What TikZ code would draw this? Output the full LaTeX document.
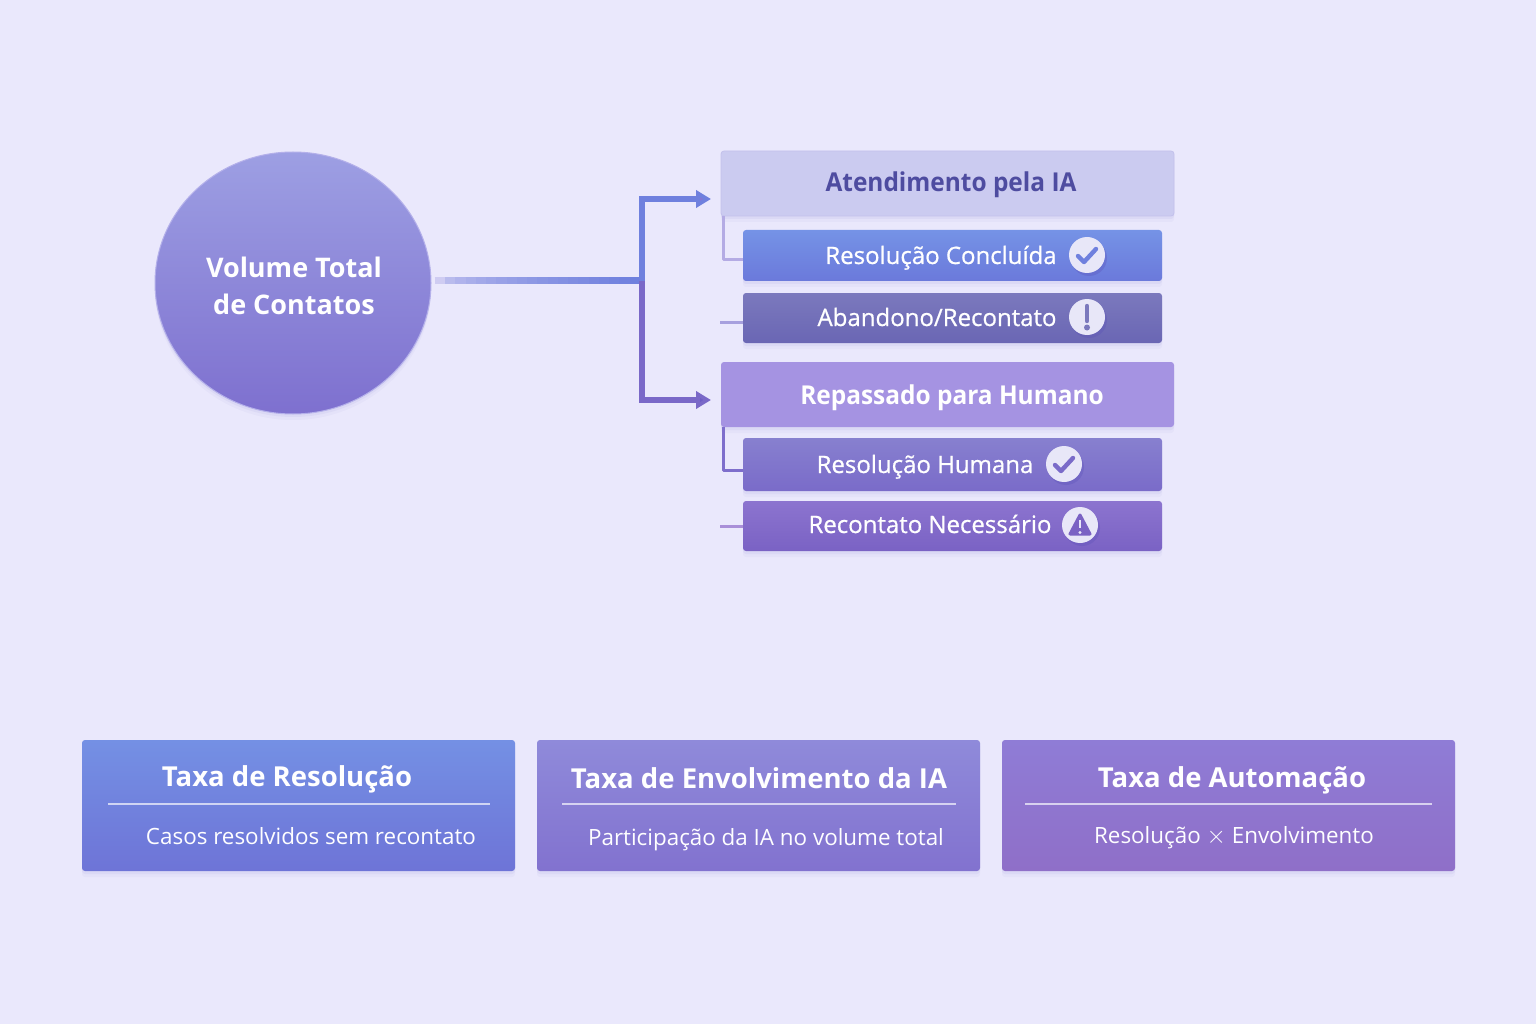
\documentclass[tikz,border=0pt]{standalone}
\usepackage{xcolor}
\usepackage{fontspec}
\setmainfont{Open Sans}
\newfontfamily\semifont[FakeStretch=0.94]{Open Sans}
\newfontfamily\mediumfont[FakeBold=0.7]{Open Sans}
\usetikzlibrary{arrows.meta, calc, shadows, shapes.geometric}
\definecolor{PageBack}{HTML}{EAE8FC}
\definecolor{IaDeep}{HTML}{4E4CA0}
\definecolor{IconFace}{HTML}{E8E7F8}
\definecolor{TrunkBlue}{HTML}{6F80DE}
\definecolor{TrunkViolet}{HTML}{7A68C8}
\definecolor{TipBlue}{HTML}{8177D6}
\definecolor{TipViolet}{HTML}{6E5CC4}
\definecolor{TrunkTail}{HTML}{CFCCF2}
\definecolor{CircleTop}{HTML}{9D9FE3}
\definecolor{CircleLow}{HTML}{7E70CF}
\definecolor{CircleEdge}{HTML}{B4B0EA}
\definecolor{AtendFill}{HTML}{CBCBF0}
\definecolor{AtendEdge}{HTML}{C3C1EC}
\definecolor{RepasseFill}{HTML}{A593E2}
\definecolor{ConclTop}{HTML}{7593E6}
\definecolor{ConclLow}{HTML}{6B79DB}
\definecolor{AbanTop}{HTML}{7B79BD}
\definecolor{AbanLow}{HTML}{6A66B4}
\definecolor{HumTop}{HTML}{8780CF}
\definecolor{HumLow}{HTML}{7A6BC9}
\definecolor{NecTop}{HTML}{8C74CF}
\definecolor{NecLow}{HTML}{7A62C4}
\definecolor{TwigOne}{HTML}{B4ABE4}
\definecolor{TwigTwo}{HTML}{A7A0DE}
\definecolor{TwigThree}{HTML}{7E6ECC}
\definecolor{TwigFour}{HTML}{A98FD8}
\definecolor{ResTop}{HTML}{7490E4}
\definecolor{ResLow}{HTML}{6E74D7}
\definecolor{EnvTop}{HTML}{8F8ADA}
\definecolor{EnvLow}{HTML}{8272CF}
\definecolor{AutoTop}{HTML}{8F7CD6}
\definecolor{AutoLow}{HTML}{8F6FC8}
\definecolor{ShadeInk}{HTML}{5A50B8}

\begin{document}
\begin{tikzpicture}[
    x=1pt, y=-1pt,
    softshadow/.style={
        general shadow={shadow xshift=0pt, shadow yshift=-6pt, fill=ShadeInk, opacity=.04},
        general shadow={shadow xshift=0pt, shadow yshift=-3pt, fill=ShadeInk, opacity=.06}
    },
    card/.style={
        rectangle, rounded corners=3pt, inner sep=0pt, outer sep=0pt, softshadow
    },
    groupbox/.style={card, minimum width=453pt, minimum height=65pt},
    subbox/.style={card, minimum width=419pt},
    ratebox/.style={card, minimum height=131pt},
    subtext/.style={anchor=base, text=white, font=\fontsize{24}{29}\mediumfont},
    grouptext/.style={anchor=base, font=\fontsize{26}{31}\semifont\bfseries},
    ratetext/.style={anchor=base, text=white, font=\fontsize{27.5}{32}\selectfont\bfseries},
    ratenote/.style={anchor=base, text=white!95!IconFace, font=\fontsize{22.4}{27}\selectfont},
    divider/.style={line width=1.5pt, color=white!70!IconFace, opacity=.7},
    badge/.style={
        circle, fill=IconFace, inner sep=0pt, outer sep=0pt, minimum size=36pt,
        general shadow={shadow xshift=2pt, shadow yshift=-3pt, fill=ShadeInk, opacity=.3}
    },
    tickline/.style={line width=4.4pt, line cap=round, line join=round},
    trunk/.style={line width=6pt, line join=miter},
    twig/.style={line width=3pt, line join=round}
]

    \useasboundingbox[fill=PageBack] (0,0) rectangle (1536,1024);

    % Source circle
    \node[ellipse, inner sep=0pt, outer sep=0pt, minimum width=276pt, minimum height=262pt, top color=CircleTop, bottom color=CircleLow,
        draw=CircleEdge, line width=1pt, softshadow] (volume) at (293,283) {};
    \node[anchor=base, text=white, align=center, font=\fontsize{27}{36}\selectfont\bfseries] (volumetext) at (294,314) {Volume Total\\de Contatos};

    % Boxes
    \node[groupbox, fill=AtendFill, draw=AtendEdge, line width=.8pt] (atend) at (947.5,183.5) {};
    \node[subbox, minimum height=51pt, top color=ConclTop, bottom color=ConclLow] (concluida) at (952.5,255.5) {};
    \node[subbox, minimum height=50pt, top color=AbanTop, bottom color=AbanLow] (abandono) at (952.5,318) {};
    \node[groupbox, fill=RepasseFill] (repasse) at (947.5,394.5) {};
    \node[subbox, minimum height=53pt, top color=HumTop, bottom color=HumLow] (humana) at (952.5,464.5) {};
    \node[subbox, minimum height=50pt, top color=NecTop, bottom color=NecLow] (necessario) at (952.5,526) {};

    % Box labels
    \node[grouptext, text=IaDeep] (atendtext) at (951,192) {Atendimento pela IA};
    \node[subtext] (concluidatext) at (941,264) {Resolução Concluída};
    \node[subtext] (abandonotext) at (937,326) {Abandono/Recontato};
    \node[grouptext, text=white] (repassetext) at (952,404) {Repassado para Humano};
    \node[subtext] (humanatext) at (925,473) {Resolução Humana};
    \node[subtext] (necessariotext) at (930,533) {Recontato Necessário};

    % Badges
    \node[badge] (okone) at (1087,255) {};
    \node[badge] (warnone) at (1087,317) {};
    \node[badge] (oktwo) at (1064,464) {};
    \node[badge] (warntwo) at (1080,525) {};
    \draw[tickline, color=TrunkBlue] ($(okone)+(-9,1)$) -- ($(okone)+(-3,7)$) -- ($(okone)+(9,-6)$);
    \draw[line width=4.4pt, line cap=round, color=AbanTop] ($(warnone)+(0,-11)$) -- ($(warnone)+(0,4)$);
    \fill[color=AbanTop] ($(warnone)+(0,10.5)$) circle (3pt);
    \draw[tickline, color=HumLow] ($(oktwo)+(-9,1)$) -- ($(oktwo)+(-3,7)$) -- ($(oktwo)+(9,-6)$);
    \draw[fill=NecLow, color=NecLow, line width=3pt, line join=round] ($(warntwo)+(0,-10)$) -- ($(warntwo)+(10,9)$) -- ($(warntwo)+(-10,9)$) -- cycle;
    \draw[line width=2.6pt, color=IconFace] ($(warntwo)+(0,-5)$) -- ($(warntwo)+(0,3)$);
    \fill[color=IconFace] ($(warntwo)+(0,7.5)$) circle (1.6pt);

    % Links
    \coordinate (trunkstart) at (437,281);
    \coordinate (junction) at (642,281);
    \coordinate (iaarrow) at (711,199);
    \coordinate (humanarrow) at (711,400);
    \foreach \i in {0,...,19}{
        \pgfmathsetmacro{\mixval}{100*(\i/19)^0.5}
        \draw[line width=7pt, color=TrunkBlue!\mixval!TrunkTail]
            ($(trunkstart)!\i/20-0.01!(junction)$) -- ($(trunkstart)!\i/20+0.05!(junction)$);
    }
    \draw[trunk, color=TrunkViolet, -{Triangle[length=15pt, width=17pt, fill=TipViolet]}] (junction) |- (humanarrow);
    \draw[trunk, color=TrunkBlue, -{Triangle[length=15pt, width=17pt, fill=TipBlue]}] (junction) |- (iaarrow);

    \coordinate (elbowone) at (723,260);
    \coordinate (elbowtwo) at (723,470);
    \coordinate (stubone) at (720,322);
    \coordinate (stubtwo) at (720,526);
    \draw[twig, color=TwigOne] (atend.south -| elbowone) -- (elbowone) -- (concluida.west |- elbowone);
    \draw[twig, color=TwigTwo] (stubone) -- (abandono.west |- stubone);
    \draw[twig, color=TwigThree] (repasse.south -| elbowtwo) -- (elbowtwo) -- (humana.west |- elbowtwo);
    \draw[twig, color=TwigFour] (stubtwo) -- (necessario.west |- stubtwo);

    % Rate boxes
    \node[ratebox, minimum width=433pt, top color=ResTop, bottom color=ResLow] (resolucao) at (298.5,805.5) {};
    \node[ratebox, minimum width=443pt, top color=EnvTop, bottom color=EnvLow] (envolvimento) at (758.5,805.5) {};
    \node[ratebox, minimum width=453pt, top color=AutoTop, bottom color=AutoLow] (automacao) at (1228.5,805.5) {};

    \node[ratetext] (resolucaotitle) at (287,786) {Taxa de Resolução};
    \node[ratetext] (envolvimentotitle) at (759,788) {Taxa de Envolvimento da IA};
    \node[ratetext] (automacaotitle) at (1232,787) {Taxa de Automação};

    \draw[divider] (108,804) -- (490,804);
    \draw[divider] (562,804) -- (956,804);
    \draw[divider] (1025,804) -- (1432,804);

    \node[ratenote] (resolucaonote) at (311,844) {Casos resolvidos sem recontato};
    \node[ratenote] (envolvimentonote) at (766,845) {Participação da IA no volume total};
    \node[ratenote] (automacaonote) at (1234,843) {Resolução {\fontsize{30}{30}\selectfont$\times$} Envolvimento};

\end{tikzpicture}
\end{document}
